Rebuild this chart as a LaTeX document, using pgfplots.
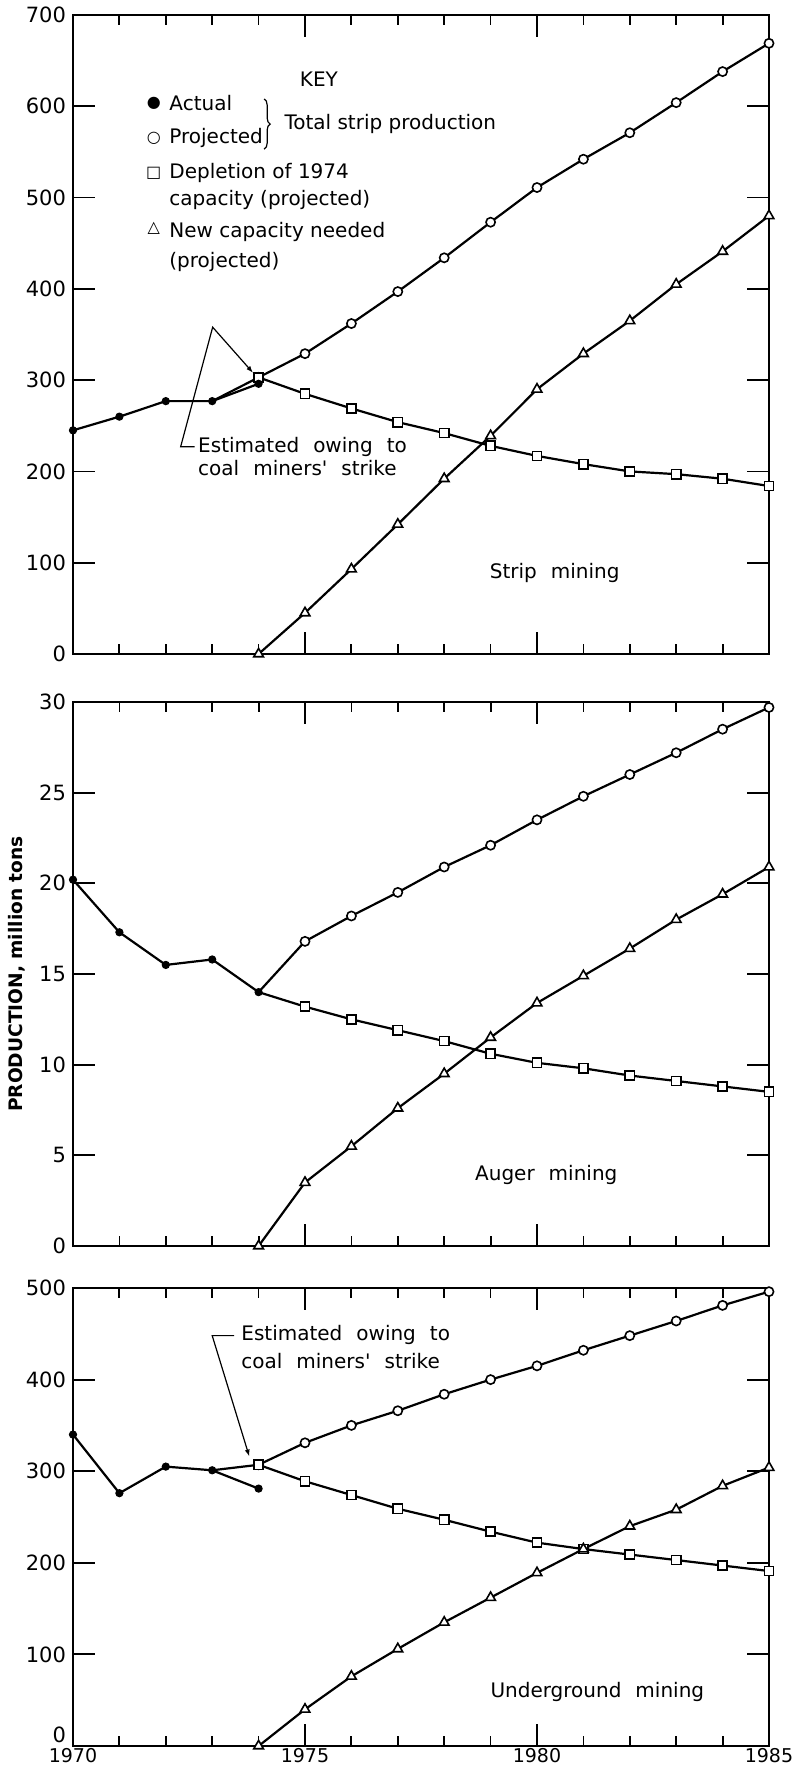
\documentclass[border=0pt]{standalone}
\usepackage{fontspec}
\setmainfont{DejaVu Sans}
\usepackage{pgfplots}
\pgfplotsset{compat=1.18}
\usetikzlibrary{decorations.pathreplacing,arrows.meta}
\newcommand{\ann}{\fontsize{10}{12}\selectfont}
\newcommand{\sym}{\fontsize{8}{9}\selectfont}
\newcommand{\ws}{\hspace{7pt}}
\tikzset{lead/.style={line width=0.6pt, -{Latex[length=3.5pt,width=2.5pt]}}}
\begin{document}
\begin{tikzpicture}
\useasboundingbox (-36.5pt,-11.5pt) rectangle (360pt,873pt);
\pgfplotsset{
  panel/.style={
    scale only axis, width=348pt, anchor=south west, clip=false,
    xmin=1970, xmax=1985,
    xtick={1970,1975,1980,1985},
    minor x tick num=4,
    tick align=inside, xtick pos=both, ytick pos=both,
    major tick length=11pt, minor tick length=5pt,
    axis line style={line width=1pt},
    tick style={black, line width=0.9pt},
    /pgf/number format/assume math mode=true,
    yticklabel style={font=\fontsize{10.5}{12}\selectfont},
    xticklabel style={font=\fontsize{9.5}{11}\selectfont, inner sep=1pt},
    every axis plot/.append style={black, line width=1.1pt},
  },
  act/.style={mark=*, mark size=1.8pt, mark options={solid, fill=black, line width=0.5pt}},
  proj/.style={mark=*, mark size=2.3pt, mark options={solid, fill=white, line width=0.8pt}},
  dep/.style={mark=square*, mark size=2.3pt, mark options={solid, fill=white, line width=0.8pt}},
  newc/.style={mark=triangle*, mark size=2.8pt, mark options={solid, fill=white, line width=0.8pt}},
}
% ---------------- Strip mining ----------------
\begin{axis}[panel, at={(0,546pt)}, height=319.5pt,
  ymin=0, ymax=700, ytick={0,100,...,700}, xticklabels={}]
\addplot[no marks] coordinates {(1973,277) (1974,303)};
\addplot[proj] coordinates {(1974,303) (1975,329) (1976,362) (1977,397) (1978,434) (1979,473) (1980,511) (1981,542) (1982,571) (1983,604) (1984,638) (1985,669)};
\addplot[dep] coordinates {(1974,303) (1975,285) (1976,269) (1977,254) (1978,242) (1979,228) (1980,217) (1981,208) (1982,200) (1983,197) (1984,192) (1985,184)};
\addplot[newc] coordinates {(1974,0) (1975,45) (1976,93) (1977,142) (1978,192) (1979,239) (1980,290) (1981,329) (1982,365) (1983,405) (1984,441) (1985,480)};
\addplot[act] coordinates {(1970,245) (1971,260) (1972,277) (1973,277) (1974,296)};
\node[font=\ann] at (axis cs:1975.3,630) {KEY};
\node[font=\sym] at (axis cs:1971.74,603) {●};
\node[font=\sym] at (axis cs:1971.74,565) {○};
\node[font=\sym] at (axis cs:1971.74,527) {□};
\node[font=\sym] at (axis cs:1971.74,466) {△};
\node[font=\ann, anchor=west, inner sep=0] at (axis cs:1972.07,603) {Actual};
\node[font=\ann, anchor=west, inner sep=0] at (axis cs:1972.07,565) {Projected};
\node[font=\ann, anchor=west, inner sep=0] at (axis cs:1972.07,527) {Depletion of 1974};
\node[font=\ann, anchor=west, inner sep=0] at (axis cs:1972.07,497) {capacity (projected)};
\node[font=\ann, anchor=west, inner sep=0] at (axis cs:1972.07,462) {New capacity needed};
\node[font=\ann, anchor=west, inner sep=0] at (axis cs:1972.07,429) {(projected)};
\draw[line width=0.6pt, decorate, decoration={brace, amplitude=3pt}] (axis cs:1974.12,608) -- (axis cs:1974.12,553);
\node[font=\ann, anchor=west, inner sep=0] at (axis cs:1974.55,581) {Total strip production};
\draw[lead] (axis cs:1972.62,227) -- (axis cs:1972.32,227) -- (axis cs:1973.01,358) -- (axis cs:1973.88,308);
\node[font=\ann, anchor=west, inner sep=0] at (axis cs:1972.69,227) {Estimated\ws owing\ws to};
\node[font=\ann, anchor=west, inner sep=0] at (axis cs:1972.69,204) {coal\ws miners\textquotesingle\ws strike};
\node[font=\ann] at (axis cs:1980.38,89) {Strip\ws mining};
\end{axis}
% ---------------- Auger mining ----------------
\begin{axis}[panel, at={(0,250pt)}, height=272pt,
  ymin=0, ymax=30, ytick={0,5,...,30}, xticklabels={}]
\addplot[proj, mark indices={2,...,12}] coordinates {(1974,14.0) (1975,16.8) (1976,18.2) (1977,19.5) (1978,20.9) (1979,22.1) (1980,23.5) (1981,24.8) (1982,26.0) (1983,27.2) (1984,28.5) (1985,29.7)};
\addplot[dep, mark indices={2,...,12}] coordinates {(1974,14.0) (1975,13.2) (1976,12.5) (1977,11.9) (1978,11.3) (1979,10.6) (1980,10.1) (1981,9.8) (1982,9.4) (1983,9.1) (1984,8.8) (1985,8.5)};
\addplot[newc] coordinates {(1974,0) (1975,3.5) (1976,5.5) (1977,7.6) (1978,9.5) (1979,11.5) (1980,13.4) (1981,14.9) (1982,16.4) (1983,18.0) (1984,19.4) (1985,20.9)};
\addplot[act] coordinates {(1970,20.2) (1971,17.3) (1972,15.5) (1973,15.8) (1974,14.0)};
\node[font=\ann] at (axis cs:1980.2,3.9) {Auger\ws mining};
\end{axis}
% ---------------- Underground mining ----------------
\begin{axis}[panel, at={(0,0pt)}, height=229pt,
  ymin=0, ymax=500, ytick={0,100,...,500},
  yticklabels={\raisebox{1.5pt}[0pt][0pt]{0},100,200,300,400,500},
  xticklabels={1970,1975,1980,1985}]
\addplot[no marks] coordinates {(1973,301) (1974,307)};
\addplot[proj] coordinates {(1974,307) (1975,331) (1976,350) (1977,366) (1978,384) (1979,400) (1980,415) (1981,432) (1982,448) (1983,464) (1984,481) (1985,496)};
\addplot[dep] coordinates {(1974,307) (1975,289) (1976,274) (1977,259) (1978,247) (1979,234) (1980,222) (1981,215) (1982,209) (1983,203) (1984,197) (1985,191)};
\addplot[newc] coordinates {(1974,0) (1975,40) (1976,76) (1977,106) (1978,135) (1979,162) (1980,189) (1981,215) (1982,240) (1983,258) (1984,284) (1985,304)};
\addplot[act] coordinates {(1970,340) (1971,276) (1972,305) (1973,301) (1974,281)};
\draw[lead] (axis cs:1973.47,448) -- (axis cs:1973.0,448) -- (axis cs:1973.8,316);
\node[font=\ann, anchor=west, inner sep=0] at (axis cs:1973.62,449) {Estimated\ws owing\ws to};
\node[font=\ann, anchor=west, inner sep=0] at (axis cs:1973.62,420) {coal\ws miners\textquotesingle\ws strike};
\node[font=\ann] at (axis cs:1981.3,59) {Underground\ws mining};
\end{axis}
\node[rotate=90, font=\bfseries\fontsize{9.3}{11}\selectfont] at (-28pt,386pt) {PRODUCTION, million tons};
\end{tikzpicture}
\end{document}
